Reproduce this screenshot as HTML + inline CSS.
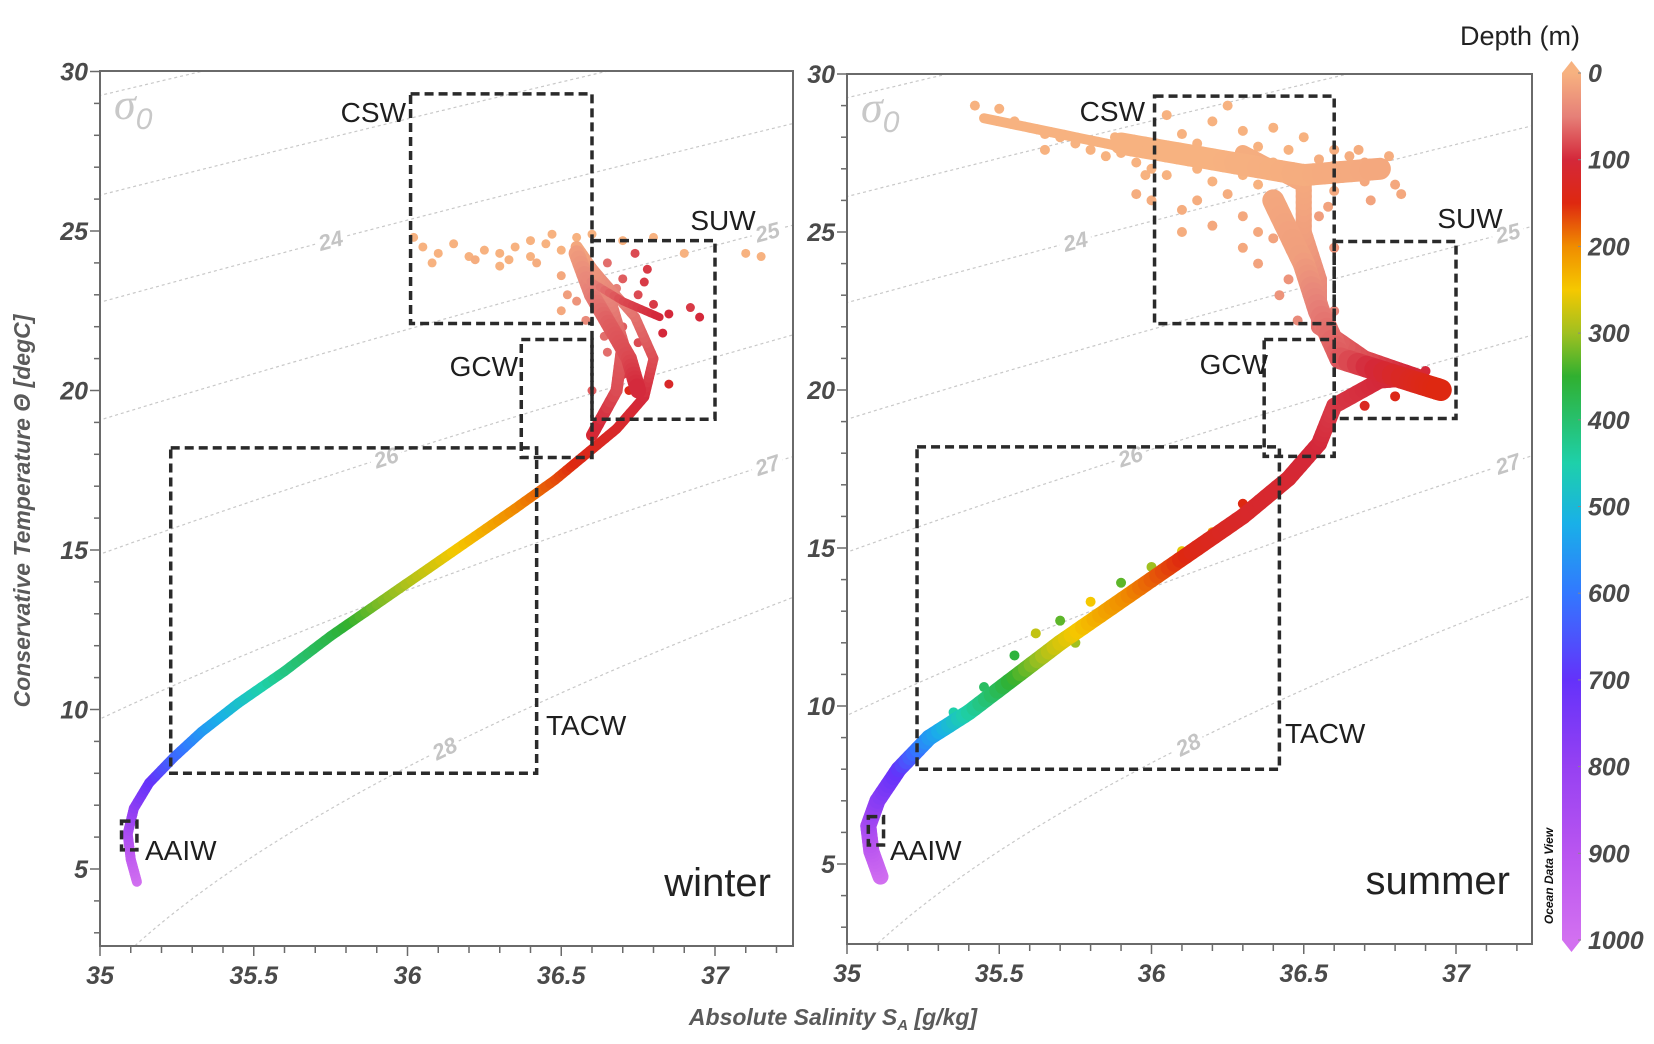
<!DOCTYPE html>
<html><head><meta charset="utf-8">
<style>
html,body{margin:0;padding:0;background:#fff;}
svg{display:block;}
.tick{font-family:"Liberation Sans Narrow","Liberation Sans",sans-serif;font-weight:bold;font-style:italic;font-size:25px;fill:#4a4a4a;}
.wm{font-family:"Liberation Sans",sans-serif;font-size:28px;fill:#1e1e1e;}
.iso{font-family:"Liberation Sans Narrow","Liberation Sans",sans-serif;font-weight:bold;font-style:italic;font-size:22px;fill:#c4c4c4;}
</style></head>
<body>
<svg id="chart" width="1654" height="1044" viewBox="0 0 1654 1044" xmlns="http://www.w3.org/2000/svg">
<rect width="1654" height="1044" fill="#fff"/>
<g id="root"></g>
</svg>
<script>
// ---------- data ----------
const isoLevels = [22, 23, 24, 25, 26, 27, 28];
const isoLabelSal = {23:36.85, 24:35.75, 25:37.17, 26:35.93, 27:37.17, 28:36.12};
const xTickLabels = [35, 35.5, 36, 36.5, 37];
const yTickLabels = [5, 10, 15, 20, 25, 30];
const depthTicks = [0, 100, 200, 300, 400, 500, 600, 700, 800, 900, 1000];
const boxNames = ["CSW", "SUW", "GCW", "TACW", "AAIW"];
const boxSal = [[36.01, 36.6], [36.6, 37.0], [36.37, 36.6], [35.23, 36.42], [35.07, 35.12]];
const boxTemp = [[22.1, 29.3], [19.1, 24.7], [17.9, 21.6], [8.0, 18.2], [5.6, 6.5]];
// winter main profile [S, T, depth]
const winterCurve = [[35.12,4.6,1000],[35.1,5.3,940],[35.09,6.1,870],[35.11,6.9,790],[35.16,7.7,710],[35.24,8.5,630],[35.33,9.3,560],[35.45,10.2,490],[35.6,11.2,420],[35.75,12.3,370],[35.9,13.3,320],[36.05,14.3,280],[36.2,15.3,240],[36.35,16.3,200],[36.48,17.2,170],[36.58,18.0,140],[36.68,18.8,120],[36.77,19.8,100],[36.8,21.0,80],[36.74,22.3,60],[36.64,23.4,40],[36.56,24.3,20]];
const winterCloudCurve = [[36.6,18.6,110],[36.68,20.0,80],[36.7,21.5,70],[36.66,22.8,50],[36.6,23.8,30],[36.55,24.5,10]];
const winterCloudCurve2 = [[36.55,24.3,20],[36.6,23.0,50],[36.66,22.0,70],[36.72,21.0,80],[36.75,20.0,100]];
const winterCloudCurve3 = [[36.58,23.5,40],[36.7,22.8,80],[36.82,22.3,100]];
const winterPoints = [[36.05,24.5,0],[36.1,24.3,0],[36.15,24.6,0],[36.2,24.2,0],[36.25,24.4,0],[36.3,24.3,0],[36.35,24.5,0],[36.4,24.2,0],[36.45,24.6,0],[36.5,24.4,0],[36.55,24.8,0],[36.6,24.9,0],[36.02,24.8,0],[36.22,24.1,5],[36.42,24.0,5],[36.5,23.6,10],[36.52,23.0,20],[36.55,22.8,30],[36.7,24.7,0],[36.8,24.8,0],[36.9,24.3,0],[37.1,24.3,0],[37.15,24.2,0],[36.3,23.9,0],[36.4,24.7,0],[36.08,24.0,0],[36.33,24.1,0],[36.47,24.9,0],[36.65,24,60],[36.7,23.5,70],[36.75,23,80],[36.8,22.7,90],[36.85,22.4,100],[36.92,22.6,90],[36.95,22.3,100],[36.7,22,70],[36.75,21.5,80],[36.65,21.2,60],[36.8,21,100],[36.7,20.5,90],[36.6,20,70],[36.85,20.2,120],[36.62,22.5,50],[36.68,23.2,50],[36.78,23.8,90],[36.72,20.0,140],[36.74,24.3,80],[36.77,23.4,90],[36.83,21.8,100],[36.64,21.7,60],[36.58,22.2,40],[36.5,22.5,10]];
// summer main profile [S, T, depth]
const summerCurve = [[35.11,4.6,1000],[35.08,5.4,930],[35.07,6.2,860],[35.1,7.0,780],[35.17,8.0,700],[35.27,9.0,560],[35.4,9.8,450],[35.55,10.9,350],[35.7,12.0,270],[35.85,13.0,220],[36.0,14.0,180],[36.15,15.0,140],[36.3,16.0,120],[36.45,17.2,110],[36.55,18.3,100],[36.6,19.5,90],[36.75,20.3,100],[36.88,20.4,110],[36.7,21.0,80],[36.55,22.0,60],[36.55,23.5,40],[36.5,25.0,20],[36.5,26.5,10],[36.3,27.5,5]];
const summerCloudCurve = [[35.9,27.8,0],[36.2,27.3,0],[36.5,26.8,5],[36.75,27.0,10]];
const summerCloudCurve2 = [[36.4,26.0,10],[36.5,24.0,20],[36.55,22.5,50],[36.62,21.0,70],[36.85,20.3,130],[36.95,20.0,150]];
const summerCloudCurve3 = [[35.45,28.6,0],[35.8,27.9,0],[36.0,27.5,0]];
const summerPoints = [[35.42,29.0,0],[35.5,28.9,0],[35.55,28.5,0],[35.6,28.3,0],[35.65,28.1,0],[35.7,28.0,0],[35.75,27.8,0],[35.8,27.6,0],[35.85,27.4,0],[35.9,27.5,0],[35.95,27.2,0],[36.0,27.0,0],[36.05,26.8,0],[36.1,27.3,0],[36.15,27.0,0],[36.2,26.6,0],[36.25,27.1,0],[36.3,26.8,0],[36.35,26.5,0],[36.4,27.2,0],[36.45,26.9,0],[36.5,27.0,5],[36.55,27.3,5],[36.6,27.1,5],[36.65,27.4,5],[36.7,27.2,10],[36.75,27.0,10],[36.8,26.5,10],[36.82,26.2,10],[36.72,26.0,15],[36.6,26.3,10],[36.5,26.2,10],[36.4,25.8,10],[36.3,25.5,10],[36.2,25.2,10],[36.1,25.7,5],[36.0,26.0,5],[35.95,26.2,5],[36.05,28.7,0],[36.2,28.5,0],[36.3,28.2,0],[36.15,27.8,0],[36.35,27.7,0],[36.45,25.0,15],[36.55,25.5,20],[36.6,24.5,30],[36.5,24.0,25],[36.45,23.5,30],[36.55,23.0,40],[36.6,22.5,45],[36.3,24.5,10],[36.4,24.8,15],[36.1,25.0,5],[36.62,26.8,10],[36.7,26.6,10],[35.65,27.6,0],[35.88,28.0,0],[36.25,29.0,0],[36.4,28.3,0],[36.5,28.0,0],[36.68,27.6,5],[36.78,27.4,5],[36.75,20.6,100],[36.85,20.5,110],[36.9,20.3,120],[36.95,20.1,130],[36.8,19.8,140],[36.7,19.5,130],[36.9,20.6,100],[36.65,20.8,90],[36.6,21.3,80],[35.45,10.6,390],[35.55,11.6,360],[35.7,12.7,330],[35.9,13.9,330],[36.0,14.4,300],[35.35,9.8,450],[35.8,13.3,250],[36.1,14.9,260],[35.62,12.3,280],[36.2,15.5,220],[36.4,16.9,180],[36.35,24.0,15],[36.42,23.0,30],[36.48,22.2,40],[36.58,25.8,15],[36.25,26.2,5],[36.15,26.0,5],[35.98,26.8,0],[36.35,25.0,10],[36.5,25.5,15],[36.45,27.6,0],[36.6,27.6,5],[36.1,28.1,0],[35.75,12.0,300],[35.5,10.6,400],[36.3,16.4,150],[36.5,17.8,130]];
// ---------- helpers ----------
const NS = "http://www.w3.org/2000/svg";
const root = document.getElementById('root');
function mk(tag, attrs, parent){ const e=document.createElementNS(NS,tag); for(const k in attrs) e.setAttribute(k,attrs[k]); (parent||root).appendChild(e); return e; }
const cStops = [[0,[247,178,128]],[50,[230,128,120]],[100,[212,40,58]],[150,[222,40,16]],[200,[240,140,0]],[250,[245,200,0]],[300,[160,192,32]],[350,[48,176,48]],[450,[30,208,170]],[520,[25,176,232]],[600,[50,120,255]],[700,[100,50,250]],[800,[150,65,242]],[900,[185,85,240]],[1000,[210,112,240]]];
function depthColor(d){
  d=Math.max(0,Math.min(1000,d));
  for(let i=0;i<cStops.length-1;i++){ const a=cStops[i],b=cStops[i+1];
    if(d<=b[0]){ const t=(d-a[0])/(b[0]-a[0]); const c=a[1].map((v,j)=>Math.round(v+(b[1][j]-v)*t)); return `rgb(${c[0]},${c[1]},${c[2]})`; } }
  return 'rgb(210,112,240)';
}
function sigma(S,T){ return 28.1+0.76*(S-35)-(0.0557*T+0.0063*T*T-3.67e-5*T*T*T); }
function tempFor(level,S){ let lo=-3,hi=36; for(let i=0;i<40;i++){ const m=(lo+hi)/2; if(sigma(S,m)>level) lo=m; else hi=m; } return (lo+hi)/2; }

function panel(cfg){
  const g=mk('g',{});
  const sx=S=>cfg.x35+(S-35)*cfg.pxS;
  const sy=T=>cfg.y30+(30-T)*cfg.pxT;
  const clipId='clip-'+cfg.name;
  const cp=mk('clipPath',{id:clipId},g); mk('rect',{x:cfg.L,y:cfg.T,width:cfg.R-cfg.L,height:cfg.B-cfg.T},cp);
  const inner=mk('g',{'clip-path':`url(#${clipId})`},g);
  
  
  const Smax=35+(cfg.R-cfg.x35)/cfg.pxS;
  isoLevels.forEach(L=>{
    let d=''; for(let S=34.9;S<=Smax+0.05;S+=0.01){ const T=tempFor(L,S); d+=(d?'L':'M')+sx(S).toFixed(1)+','+sy(T).toFixed(1); }
    const p=mk('path',{d,fill:'none',stroke:'#c8c8c8','stroke-width':1.2,'stroke-dasharray':'3 3'},inner);
    
    
    if(isoLabelSal[L]!==undefined){
      const S=isoLabelSal[L], T=tempFor(L,S), T2=tempFor(L,S+0.05);
      const ang=Math.atan2(sy(T2)-sy(T),sx(S+0.05)-sx(S))*180/Math.PI;
      const x=sx(S), y=sy(T);
      mk('rect',{x:x-16,y:y-14,width:32,height:26,fill:'#fff',transform:`rotate(${ang} ${x} ${y})`},inner);
      const t=mk('text',{x,y:y+8,'text-anchor':'middle',class:'iso',transform:`rotate(${ang} ${x} ${y})`},inner);
      t.textContent=L;
      
      
    }
  });
  const sg=mk('text',{x:cfg.L+14,y:cfg.T+48,'font-family':'"Liberation Serif",serif','font-style':'italic','font-size':44,fill:'#c8c8c8'},g);
  sg.innerHTML='σ<tspan font-size="30" dy="10" font-family="Liberation Sans,sans-serif">0</tspan>';
  
  
  function drawCurve(arr,w,nm){
    const cg=mk('g',{},inner);
    
    
    for(let i=0;i<arr.length-1;i++){ const a=arr[i],b=arr[i+1]; const n=8;
      for(let k=0;k<n;k++){ const t0=k/n,t1=(k+1)/n;
        mk('line',{x1:sx(a[0]+(b[0]-a[0])*t0),y1:sy(a[1]+(b[1]-a[1])*t0),x2:sx(a[0]+(b[0]-a[0])*t1),y2:sy(a[1]+(b[1]-a[1])*t1),stroke:depthColor(a[2]+(b[2]-a[2])*(t0+t1)/2),'stroke-width':w,'stroke-linecap':'round'},cg);
      } }
  }
  function drawPoints(arr,r,nm){
    const pg=mk('g',{},inner);
    
    
    arr.forEach(p=>{ const c=mk('circle',{cx:sx(p[0]),cy:sy(p[1]),r,fill:depthColor(p[2])},pg);
      
       });
  }
  drawPoints(cfg.points,cfg.pr,'sample-points');
  cfg.curves.forEach((c,i)=>drawCurve(c,cfg.widths[i],'profile-band-'+i));
  boxNames.forEach((n,i)=>{
    const x1=sx(boxSal[i][0]),x2=sx(boxSal[i][1]),y1=sy(boxTemp[i][1]),y2=sy(boxTemp[i][0]);
    const r=mk('rect',{x:x1,y:y1,width:x2-x1,height:y2-y1,fill:'none',stroke:'#2a2a2a','stroke-width':3.5,'stroke-dasharray':'9 5'},g);
    
    
  });
  cfg.boxLabels.forEach(b=>{ const t=mk('text',{x:b[1],y:b[2],class:'wm','text-anchor':b[3]},g); t.textContent=b[0];
    
     });
  const st=mk('text',{x:cfg.R-22,y:cfg.B-50,'text-anchor':'end','font-family':'"Liberation Sans",sans-serif','font-size':40,fill:'#222'},g);
  st.textContent=cfg.season;
  
  
  const fr=mk('rect',{x:cfg.L,y:cfg.T,width:cfg.R-cfg.L,height:cfg.B-cfg.T,fill:'none',stroke:'#6a6a6a','stroke-width':2},g);
  
  
  for(let i=0;;i++){ const S=35+i*0.1; const x=sx(S); if(x>cfg.R+1) break;
    mk('line',{x1:x,y1:cfg.B,x2:x,y2:cfg.B+(i%5===0?10:7),stroke:'#6a6a6a','stroke-width':1.5},g); }
  xTickLabels.forEach(v=>{ const t=mk('text',{x:sx(v),y:cfg.B+38,'text-anchor':'middle',class:'tick'},g); t.textContent=v;
    
     });
  for(let T=30;;T--){ const y=sy(T); if(y>cfg.B) break;
    mk('line',{x1:cfg.L,y1:y,x2:cfg.L-(T%5===0?10:6),y2:y,stroke:'#6a6a6a','stroke-width':1.5},g); }
  yTickLabels.forEach(v=>{ const t=mk('text',{x:cfg.L-12,y:sy(v)+9,'text-anchor':'end',class:'tick'},g); t.textContent=v;
    
     });
}

panel({name:'winter-panel',season:'winter',L:100,T:71,R:793,B:946,x35:100,pxS:307.5,y30:71.5,pxT:31.9,
  curves:[winterCurve,winterCloudCurve,winterCloudCurve2,winterCloudCurve3],widths:[10,12,16,8],points:winterPoints,pr:4.5,
  boxLabels:[["CSW",406,122,'end'],["SUW",723,230,'middle'],["GCW",518,376,'end'],["TACW",546,735,'start'],["AAIW",145,860,'start']]});
panel({name:'summer-panel',season:'summer',L:847,T:74,R:1532,B:944,x35:847,pxS:304.5,y30:74,pxT:31.6,
  curves:[summerCurve,summerCloudCurve,summerCloudCurve2,summerCloudCurve3],widths:[16,22,22,10],points:summerPoints,pr:5,
  boxLabels:[["CSW",1145,121,'end'],["SUW",1470,228,'middle'],["GCW",1268,374,'end'],["TACW",1285,743,'start'],["AAIW",890,860,'start']]});

(function(){
  const yt=mk('text',{x:0,y:0,transform:'translate(30,511) rotate(-90)','text-anchor':'middle','font-family':'"Liberation Sans Narrow","Liberation Sans",sans-serif','font-weight':'bold','font-style':'italic','font-size':23,fill:'#5a5a5a'});
  yt.textContent='Conservative Temperature Θ [degC]';
  
  
  const xt=mk('text',{x:833,y:1025,'text-anchor':'middle','font-family':'"Liberation Sans Narrow","Liberation Sans",sans-serif','font-weight':'bold','font-style':'italic','font-size':23,fill:'#5a5a5a'});
  xt.innerHTML='Absolute Salinity S<tspan font-size="15" dy="5">A</tspan><tspan dy="-5"> [g/kg]</tspan>';
  
  
})();

(function(){
  const cb=mk('g',{});
  
  
  const x=1562,w=19,y0=73,y1=940,tip=12;
  const defs=mk('defs',{},cb);
  const lg=mk('linearGradient',{id:'cbgrad',x1:0,y1:0,x2:0,y2:1},defs);
  cStops.forEach(s=>mk('stop',{offset:s[0]/1000,'stop-color':depthColor(s[0])},lg));
  mk('rect',{x,y:y0,width:w,height:y1-y0,fill:'url(#cbgrad)'},cb);
  mk('path',{d:`M${x},${y0} L${x+w/2},${y0-tip} L${x+w},${y0} Z`,fill:depthColor(0)},cb);
  mk('path',{d:`M${x},${y1} L${x+w/2},${y1+tip} L${x+w},${y1} Z`,fill:depthColor(1000)},cb);
  depthTicks.forEach(d=>{ const y=y0+(y1-y0)*d/1000;
    mk('line',{x1:x+w-3,y1:y,x2:x+w,y2:y,stroke:'#888','stroke-width':1},cb);
    const t=mk('text',{x:1588,y:y+9,class:'tick'},cb); t.textContent=d;
    
     });
  const dt=mk('text',{x:1520,y:45,'text-anchor':'middle','font-family':'"Liberation Sans",sans-serif','font-size':27,fill:'#222'},cb);
  dt.textContent='Depth (m)';
  
  
  const od=mk('text',{x:0,y:0,transform:'translate(1553,876) rotate(-90)','text-anchor':'middle','font-family':'"Liberation Sans",sans-serif','font-weight':'bold','font-style':'italic','font-size':12,fill:'#111'},cb);
  od.textContent='Ocean Data View';
  
  
})();
</script>
</body></html>
